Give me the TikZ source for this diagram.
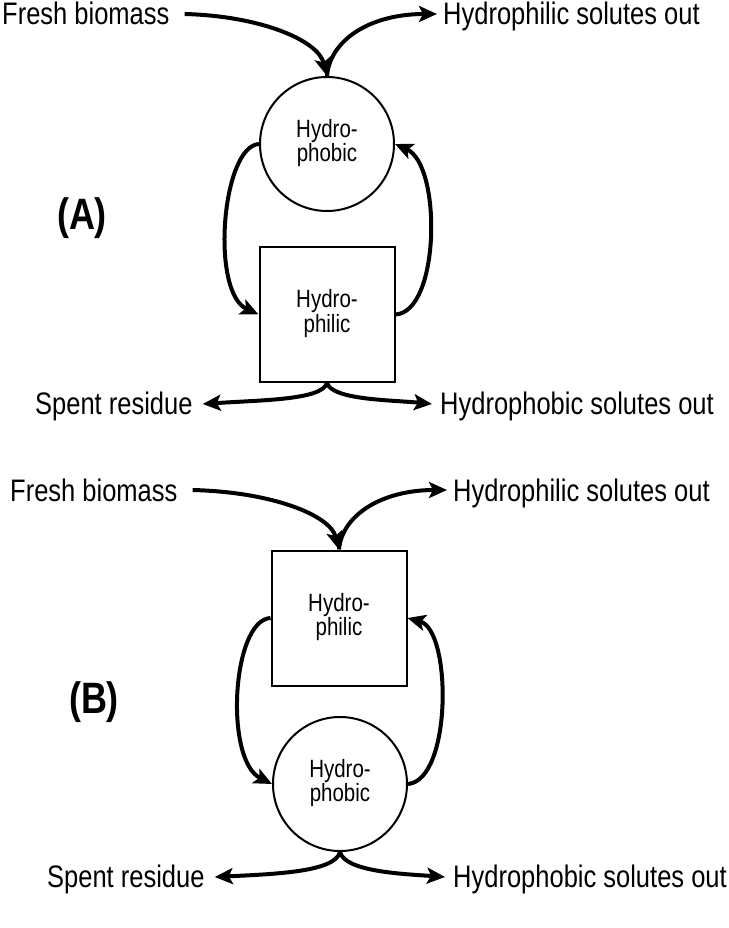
\documentclass[tikz,border=0pt]{standalone}
\usepackage{fontspec}
\setmainfont{Liberation Sans}
\usetikzlibrary{arrows.meta,calc}
\newcommand{\vst}[1]{\scalebox{1}[1.22]{#1}}
\newcommand{\twol}[2]{\scalebox{1}[1.22]{\begin{tabular}{@{}c@{}}#1\\[-3pt]#2\end{tabular}}}
\tikzset{
  flow/.style={line width=4pt,-{Stealth[length=18pt,width=16pt,inset=4pt]}},
  lbl/.style={inner sep=0pt,anchor=base west,font=\fontsize{25.5}{30}\selectfont},
  tank/.style={draw,line width=2pt,inner sep=0pt,align=center,font=\fontsize{20.5}{23}\selectfont},
  round/.style={tank,circle,minimum size=134pt},
  boxed/.style={tank,rectangle,minimum size=135pt},
  panel/.style={font=\bfseries\fontsize{36}{38}\selectfont}
}
\begin{document}
\begin{tikzpicture}[x=1pt,y=-1pt]
\useasboundingbox (0,0) rectangle (728,928);
% ---------------- Panel A
\node[lbl] (fbA) at (2,25) {\vst{Fresh biomass}};
\node[lbl] (hsA) at (443,25) {\vst{Hydrophilic solutes out}};
\node[lbl] (srA) at (35,414) {\vst{Spent residue}};
\node[lbl] (hoA) at (440,414) {\vst{Hydrophobic solutes out}};
\node[round] (cA) at (327,144) {\twol{Hydro-}{phobic}};
\node[boxed] (sA) at (327,314.5) {\twol{Hydro-}{philic}};
\node[panel] (pA) at (82,218) {\vst{(A)}};
\coordinate (fbAe) at ($(fbA.base east)+(15,-11)$);
\coordinate (hsAe) at ($(hsA.base west)+(-6,-11)$);
\coordinate (srAe) at ($(srA.base east)+(10,-10)$);
\coordinate (hoAe) at ($(hoA.base west)+(-8,-10)$);
\draw[flow] (fbAe) .. controls (260,16) and (318,40) .. (cA.north);
\draw[flow] (cA.north) .. controls (330,40) and (370,14) .. (hsAe);
\draw[flow] (cA.west) .. controls (222,146) and (210,292) .. (sA.west);
\draw[flow] (sA.east) .. controls (440,312) and (442,165) .. (cA.east);
\draw[flow] (sA.south) .. controls (322,400) and (262,400) .. (srAe);
\draw[flow] (sA.south) .. controls (332,400) and (392,400) .. (hoAe);
% ---------------- Panel B
\node[lbl] (fbB) at (10,501) {\vst{Fresh biomass}};
\node[lbl] (hsB) at (453,501) {\vst{Hydrophilic solutes out}};
\node[lbl] (srB) at (47,887) {\vst{Spent residue}};
\node[lbl] (hoB) at (453,887) {\vst{Hydrophobic solutes out}};
\node[boxed] (sB) at (339,618) {\twol{Hydro-}{philic}};
\node[round] (cB) at (340,784) {\twol{Hydro-}{phobic}};
\node[panel] (pB) at (94,702) {\vst{(B)}};
\coordinate (fbBe) at ($(fbB.base east)+(15,-11)$);
\coordinate (hsBe) at ($(hsB.base west)+(-6,-11)$);
\coordinate (srBe) at ($(srB.base east)+(10,-10)$);
\coordinate (hoBe) at ($(hoB.base west)+(-8,-10)$);
\draw[flow] (fbBe) .. controls (272,492) and (330,515) .. (sB.north);
\draw[flow] (sB.north) .. controls (342,515) and (382,490) .. (hsBe);
\draw[flow] (sB.west) .. controls (232,620) and (224,760) .. (cB.west);
\draw[flow] (cB.east) .. controls (452,780) and (452,630) .. (sB.east);
\draw[flow] (cB.south) .. controls (335,872) and (275,874) .. (srBe);
\draw[flow] (cB.south) .. controls (345,872) and (405,874) .. (hoBe);
\end{tikzpicture}
\end{document}
